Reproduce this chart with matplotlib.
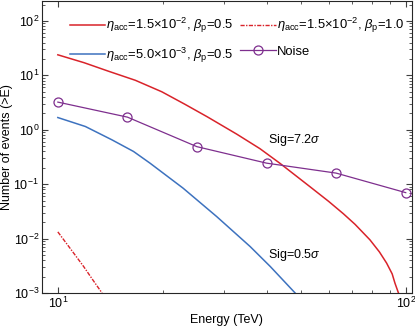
import numpy as np
import matplotlib
matplotlib.use("Agg")
import matplotlib.pyplot as plt

plt.rcParams["font.family"] = ["Liberation Sans", "DejaVu Sans"]
plt.rcParams["mathtext.fontset"] = "custom"
plt.rcParams["mathtext.rm"] = "Liberation Sans"
plt.rcParams["mathtext.it"] = "Liberation Sans:italic"
plt.rcParams["mathtext.bf"] = "Liberation Sans:bold"

# values
e_red = [10, 11.9, 14.0, 16.7, 19.9, 23.2, 26.9, 32.7, 38.1, 43.5, 53.1, 60.0, 66.2, 71.5, 78.9, 84.0, 88.1, 91.4, 93.1, 95.3]
n_red = [23.9, 17.1, 11.9, 8.13, 5.0, 2.94, 1.73, 0.83, 0.45, 0.242, 0.0896, 0.0485, 0.0286, 0.0183, 0.0095, 0.0057, 0.00355, 0.00225, 0.00152, 0.001]

e_red_b1 = [10, 10.9, 11.85, 12.6, 13.4]
n_red_b1 = [0.0133, 0.00636, 0.0031, 0.00175, 0.001]

e_blue = [10, 12.0, 14.3, 16.5, 18.4, 22.9, 28.6, 35.7, 40.8, 48.1]
n_blue = [1.68, 1.15, 0.655, 0.40, 0.244, 0.0848, 0.0255, 0.00716, 0.00307, 0.001]

e_noise = [10, 15.85, 25.1, 39.8, 63.1, 100]
n_noise = [3.23, 1.71, 0.49, 0.244, 0.16, 0.070]

red = "#d9232a"
blue = "#3d72bf"
purple = "#7e2f8e"

fig = plt.figure(figsize=(4.15, 3.33), dpi=100)
ax = fig.add_axes([0.101, 0.12, 0.891, 0.877])

h1, = ax.plot(e_red, n_red, color=red, lw=1.1,
              label=r"$\eta_{\mathrm{acc}}$=1.5$\times$10$^{-2}$, $\beta_{\mathrm{p}}$=0.5")
h2, = ax.plot(e_red_b1, n_red_b1, color=red, lw=1.0, ls=(0, (3, 1, 1, 1)),
              label=r"$\eta_{\mathrm{acc}}$=1.5$\times$10$^{-2}$, $\beta_{\mathrm{p}}$=1.0")
h3, = ax.plot(e_blue, n_blue, color=blue, lw=1.1,
              label=r"$\eta_{\mathrm{acc}}$=5.0$\times$10$^{-3}$, $\beta_{\mathrm{p}}$=0.5")
h4, = ax.plot(e_noise, n_noise, color=purple, lw=0.9, marker="o", ms=6.5,
              mfc="none", mew=0.9, label="Noise")

ax.text(40.2, 0.655, r"Sig=7.2$\sigma$", fontsize=9, va="center")
ax.text(40.2, 0.005, r"Sig=0.5$\sigma$", fontsize=9, va="center")

ax.set_xscale("log")
ax.set_yscale("log")
ax.set_xlim(9.0, 104)
ax.set_ylim(1e-3, 233)
ax.set_yticks([1e-3, 1e-2, 1e-1, 1, 10, 100])
ax.set_xlabel("Energy (TeV)", fontsize=9, labelpad=2)
ax.set_ylabel("Number of events (>E)", fontsize=9, labelpad=0)
ax.tick_params(which="both", direction="in", top=True, right=True,
               labelsize=9, color="0.25", pad=2)
ax.tick_params(which="major", length=4)
ax.tick_params(which="minor", length=2)
for s in ax.spines.values():
    s.set_color("0.15")
    s.set_linewidth(0.8)

# column-major fill: row 1 = red solid, red dash-dot; row 2 = blue, noise
ax.legend([h1, h3, h2, h4], [h.get_label() for h in (h1, h3, h2, h4)],
          ncol=2, loc="upper left", bbox_to_anchor=(0.076, 0.948), frameon=False,
          fontsize=9.4, handlelength=2.7, handletextpad=0.08, columnspacing=0.5,
          labelspacing=0.8, borderpad=0, borderaxespad=0)

fig.savefig("out.png", dpi=100)
